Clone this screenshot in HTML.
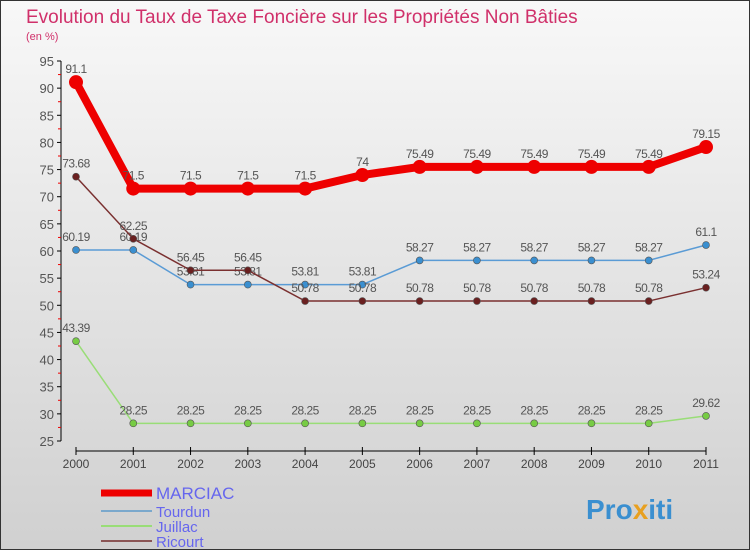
<!DOCTYPE html>
<html><head><meta charset="utf-8"><style>
body{margin:0}
#c{width:750px;height:550px;position:relative;background:linear-gradient(#f8f8f8,#d0d0d0);border:1px solid #333;box-sizing:border-box;font-family:"Liberation Sans",sans-serif;overflow:hidden}
text{font-family:"Liberation Sans",sans-serif}
</style></head><body>
<div id="c">
<svg id="s" width="750" height="550">
<text x="25" y="22" font-size="19" fill="#d0306a">Evolution du Taux de Taxe Foncière sur les Propriétés Non Bâties</text>
<text x="25" y="39" font-size="11" fill="#d0306a">(en %)</text>
<text x="585" y="518" font-size="28" font-weight="bold" fill="#3a8fd0">Pro<tspan fill="#e8a020">x</tspan>iti</text>
</svg>
</div>
<script>
const years=["2000","2001","2002","2003","2004","2005","2006","2007","2008","2009","2010","2011"];
const marciac=[91.1,71.5,71.5,71.5,71.5,74,75.49,75.49,75.49,75.49,75.49,79.15];
const tourdun=[60.19,60.19,53.81,53.81,53.81,53.81,58.27,58.27,58.27,58.27,58.27,61.1];
const juillac=[43.39,28.25,28.25,28.25,28.25,28.25,28.25,28.25,28.25,28.25,28.25,29.62];
const ricourt=[73.68,62.25,56.45,56.45,50.78,50.78,50.78,50.78,50.78,50.78,50.78,53.24];
const yTicks=[25,30,35,40,45,50,55,60,65,70,75,80,85,90,95];
const NS="http://www.w3.org/2000/svg",s=document.getElementById('s');
const X=i=>75+i*(630/11), Y=v=>440-(v-25)*380/70;
function el(t,a,p){const e=document.createElementNS(NS,t);for(const k in a)e.setAttribute(k,a[k]);(p||s).appendChild(e);return e;}
let ax=el('line',{x1:60,y1:Y(95),x2:60,y2:Y(25),stroke:'#000'});


yTicks.forEach(v=>{
 el('line',{x1:56,y1:Y(v),x2:60,y2:Y(v),stroke:'#000'});
 if(v<95)el('line',{x1:57,y1:Y(v+2.5),x2:60,y2:Y(v+2.5),stroke:'#e00'});
 const t=el('text',{x:53,y:Y(v)+5,'font-size':13,fill:'#555','text-anchor':'end'});t.textContent=v;
 
 
});
let xa=el('line',{x1:75,y1:450,x2:705,y2:450,stroke:'#000'});


years.forEach((y,i)=>{
 el('line',{x1:X(i),y1:446,x2:X(i),y2:454,stroke:'#000'});
 const t=el('text',{x:X(i),y:467,'font-size':12,fill:'#444','text-anchor':'middle'});t.textContent=y;
 
 
});
const series=[
 {n:'tourdun',d:tourdun,c:'#5a9bd5',w:1.5,r:3.5,f:'#3a8fd0'},
 {n:'juillac',d:juillac,c:'#99dd77',w:1.5,r:3.5,f:'#77cc44'},
 {n:'ricourt',d:ricourt,c:'#7a3030',w:1.5,r:3.5,f:'#6a2020'},
 {n:'marciac',d:marciac,c:'#ee0000',w:8,r:7,f:'#ee0000'}];
series.forEach(S=>{
 const p=el('polyline',{points:S.d.map((v,i)=>X(i)+','+Y(v)).join(' '),fill:'none',stroke:S.c,'stroke-width':S.w});
 
 
 S.d.forEach((v,i)=>{
  const c=el('circle',{cx:X(i),cy:Y(v),r:S.r,fill:S.f,stroke:'#555','stroke-width':S.n=='marciac'?0:0.6});
  
  
  const t=el('text',{x:X(i),y:Y(v)-9,'font-size':12,fill:'#555','text-anchor':'middle','letter-spacing':'-0.5'});t.textContent=v;
  
  
 });
});
const leg=[['MARCIAC','#ee0000',7,490],['Tourdun','#7aa8cc',2,508],['Juillac','#99dd77',2,523],['Ricourt','#8a5555',2,538]];
leg.forEach(L=>{
 const g=el('g',{});
 
 
 el('line',{x1:100,y1:L[3]+2,x2:151,y2:L[3]+2,stroke:L[1],'stroke-width':L[2]},g);
 const t=el('text',{x:155,y:L[3]+8,'font-size':L[2]>2?17:15,fill:'#6666ee'},g);t.textContent=L[0];
});
</script>
</body></html>
